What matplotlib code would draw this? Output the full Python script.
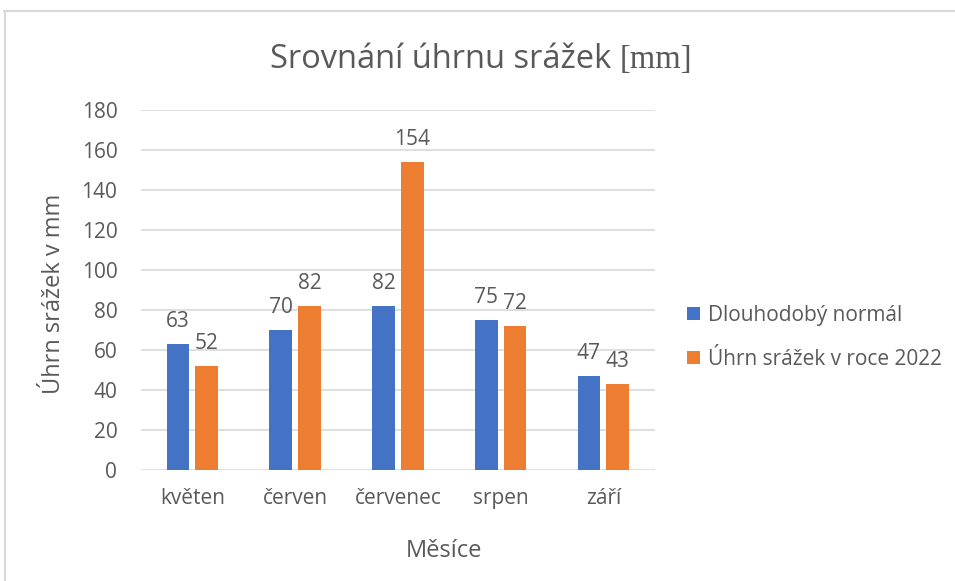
import numpy as np
import matplotlib.pyplot as plt
from matplotlib.lines import Line2D

# chart data
months = ["květen", "červen", "červenec", "srpen", "září"]
normal = [63, 70, 82, 75, 47]
rain_2022 = [52, 82, 154, 72, 43]
series_names = ["Dlouhodobý normál", "Úhrn srážek v roce 2022"]

blue = "#4472C4"
orange = "#ED7D31"
text_col = "#595959"

plt.rcParams['font.family'] = ['Open Sans', 'DejaVu Sans']

fig = plt.figure(figsize=(9.55, 5.81), dpi=100)
ax = fig.add_axes([0.1476, 0.191, 0.538, 0.6196])

x = np.arange(len(months))
w = 0.22
b1 = ax.bar(x - 0.14, normal, w, color=blue, label=series_names[0], zorder=3)
b2 = ax.bar(x + 0.14, rain_2022, w, color=orange, label=series_names[1], zorder=3)

for bars in (b1, b2):
    ax.bar_label(bars, padding=9, fontsize=15, color=text_col)

ax.set_xlim(-0.5, len(months) - 0.5)
ax.set_ylim(0, 180)
ax.set_yticks(range(0, 181, 20))
ax.set_xticks(x)
ax.set_xticklabels(months)
ax.tick_params(axis='both', length=0, labelsize=15, labelcolor=text_col)
ax.tick_params(axis='x', pad=13)
ax.tick_params(axis='y', pad=17)
ax.grid(axis='y', color="#D9D9D9", linewidth=1.2, zorder=0)
for s in ax.spines.values():
    s.set_visible(False)

ax.set_xlabel("Měsíce", fontsize=17, color=text_col)
ax.xaxis.set_label_coords(0.59, -0.192)
ax.set_ylabel("Úhrn srážek v mm", fontsize=17, color=text_col)
ax.yaxis.set_label_coords(-0.145, 0.49)

# title with serif unit part
fig.text(0.649, 0.897, "Srovnání úhrnu srážek ", fontsize=23.5, color=text_col,
         ha='right', va='center')
fig.text(0.649, 0.897, "[mm]", fontsize=23.5, color=text_col, ha='left', va='center',
         family=['Liberation Serif', 'DejaVu Serif'])

ax.legend(loc='center left', bbox_to_anchor=(1.027, 0.369), frameon=False,
          fontsize=15, labelcolor=text_col, handlelength=0.6, handleheight=0.6,
          handletextpad=0.4, labelspacing=1.1)

# outer chart frame (top and left edges visible)
fig.add_artist(Line2D([0.004, 1.0], [0.981, 0.981], color="#D9D9D9", lw=1.5))
fig.add_artist(Line2D([0.005, 0.005], [0.0, 0.981], color="#D9D9D9", lw=1.5))

fig.savefig("out.png", dpi=100)
